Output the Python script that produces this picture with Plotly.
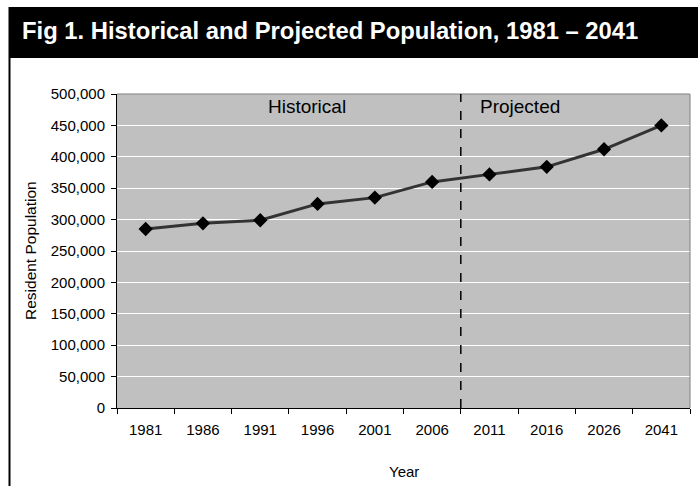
import plotly.graph_objects as go

years = ["1981", "1986", "1991", "1996", "2001", "2006", "2011", "2016", "2026", "2041"]
population = [285000, 294000, 299000, 325000, 335000, 360000, 372000, 384000, 412000, 450000]
y_ticks = list(range(0, 500001, 50000))

W, H = 698, 486
L, R, T, B = 117, 690, 94, 408
FONT = "Arial, Liberation Sans, sans-serif"

def px(x):
    return (x - L) / (R - L)

def py(y):
    return (B - y) / (B - T)

fig = go.Figure()
fig.add_trace(go.Scatter(
    x=years, y=population, mode="lines+markers",
    line=dict(color="#333333", width=3),
    marker=dict(symbol="diamond", size=11, color="black"),
    showlegend=False, hoverinfo="skip", cliponaxis=False,
))

shapes = [
    # title bar
    dict(type="rect", xref="paper", yref="paper", x0=px(9), x1=px(700), y0=py(58), y1=py(7),
         fillcolor="black", line=dict(width=0), layer="above"),
    # left figure border
    dict(type="line", xref="paper", yref="paper", x0=px(9.5), x1=px(9.5), y0=py(490), y1=py(7),
         line=dict(color="black", width=2), layer="above"),
    # top & right plot border
    dict(type="line", xref="paper", yref="paper", x0=0, x1=1, y0=1, y1=1,
         line=dict(color="#808080", width=1), layer="above"),
    dict(type="line", xref="paper", yref="paper", x0=1, x1=1, y0=0, y1=1,
         line=dict(color="#808080", width=1), layer="above"),
    # dashed divider between historical and projected
    dict(type="line", xref="x", yref="y", x0=5.5, x1=5.5, y0=0, y1=500000,
         line=dict(color="black", width=1.5, dash="dash"), layer="above"),
]

annotations = [
    dict(text="<b>Fig 1. Historical and Projected Population, 1981 – 2041</b>",
         xref="paper", yref="paper", x=px(20), y=py(31), xanchor="left", yanchor="middle",
         showarrow=False, font=dict(family=FONT, size=23.8, color="white")),
    dict(text="Historical", xref="x", yref="paper", x=2.82, y=py(106),
         xanchor="center", yanchor="middle", showarrow=False,
         font=dict(family=FONT, size=19, color="black")),
    dict(text="Projected", xref="x", yref="paper", x=6.53, y=py(106),
         xanchor="center", yanchor="middle", showarrow=False,
         font=dict(family=FONT, size=19, color="black")),
    dict(text="Year", xref="paper", yref="paper", x=0.5, y=py(471),
         xanchor="center", yanchor="middle", showarrow=False,
         font=dict(family=FONT, size=15, color="black")),
    dict(text="Resident Population", xref="paper", yref="paper", x=px(30), y=0.5,
         xanchor="center", yanchor="middle", textangle=-90, showarrow=False,
         font=dict(family=FONT, size=15.5, color="black")),
]

fig.update_layout(
    width=W, height=H,
    margin=dict(l=L, r=W - R, t=T, b=H - B, pad=0),
    paper_bgcolor="white", plot_bgcolor="#C0C0C0",
    font=dict(family=FONT, size=15, color="black"),
    shapes=shapes, annotations=annotations,
)
fig.update_xaxes(
    type="category", categoryorder="array", categoryarray=years,
    range=[-0.5, 9.5], tickson="boundaries",
    ticks="outside", ticklen=5, tickcolor="black", tickwidth=1,
    showline=True, linecolor="black", linewidth=1,
    showgrid=False, ticklabelstandoff=8,
    tickfont=dict(family=FONT, size=15, color="black"),
)
fig.update_yaxes(
    range=[0, 500000], tickvals=y_ticks, tickformat=",",
    ticks="outside", ticklen=5, tickcolor="black", tickwidth=1,
    showline=True, linecolor="black", linewidth=1,
    showgrid=True, gridcolor="white", gridwidth=1, zeroline=False,
    ticklabelstandoff=3,
    tickfont=dict(family=FONT, size=15, color="black"),
)

fig.write_html("out.html", config={"displayModeBar": False},
               post_script="document.body.style.margin='0px';")
